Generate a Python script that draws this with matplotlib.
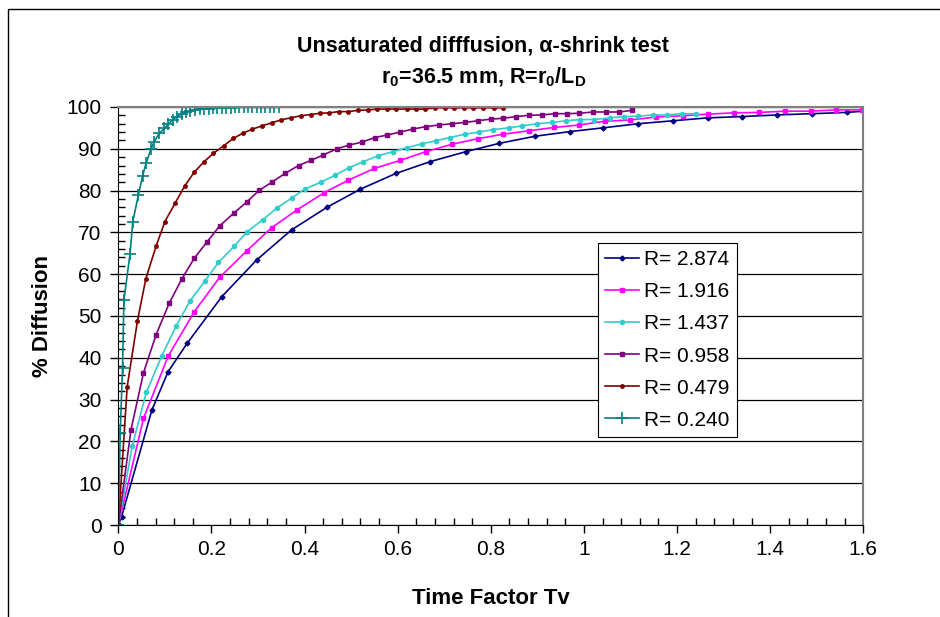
import matplotlib
matplotlib.use("Agg")
import matplotlib.pyplot as plt
from matplotlib.patches import Rectangle
from matplotlib.ticker import MultipleLocator

plt.rcParams['font.family'] = ['Liberation Sans', 'DejaVu Sans']
plt.rcParams['mathtext.fontset'] = 'custom'
plt.rcParams['mathtext.rm'] = 'Liberation Sans'
plt.rcParams['mathtext.bf'] = 'Liberation Sans:bold'

# R = 2.874
nx = [0, 0.007, 0.072, 0.107, 0.148, 0.222, 0.297, 0.372, 0.448, 0.519, 0.596, 0.669, 0.746, 0.818,
      0.895, 0.969, 1.040, 1.117, 1.191, 1.266, 1.339, 1.415, 1.489, 1.565, 1.6]
ny = [0, 2.0, 27.5, 36.7, 43.5, 54.6, 63.4, 70.6, 76.0, 80.3, 84.1, 86.9, 89.3, 91.3,
      93.0, 94.1, 95.0, 96.0, 96.7, 97.4, 97.7, 98.1, 98.4, 98.7, 99.0]
# R = 1.916
mx = [0, 0.054, 0.107, 0.163, 0.218, 0.276, 0.329, 0.384, 0.442, 0.494, 0.550, 0.605, 0.660, 0.717, 0.772,
      0.827, 0.881, 0.936, 0.990, 1.045, 1.100, 1.155, 1.213, 1.267, 1.322, 1.377, 1.432, 1.487, 1.541, 1.597]
my = [0, 25.5, 40.4, 51.0, 59.3, 65.6, 71.1, 75.4, 79.5, 82.5, 85.3, 87.2, 89.3, 91.1, 92.4,
      93.5, 94.3, 95.1, 95.7, 96.6, 96.9, 97.6, 97.9, 98.3, 98.6, 98.7, 99.0, 99.0, 99.3, 99.3]
# R = 1.437
cx = [0, 0.030, 0.060, 0.093, 0.124, 0.154, 0.186, 0.215, 0.249, 0.277, 0.310, 0.340, 0.372, 0.401,
      0.435, 0.466, 0.496, 0.526, 0.557, 0.589, 0.621, 0.652, 0.682, 0.712, 0.745, 0.775, 0.805, 0.838,
      0.868, 0.900, 0.931, 0.962, 0.992, 1.022, 1.056, 1.086, 1.117, 1.148, 1.178, 1.210, 1.241]
cy = [0, 19.0, 31.7, 40.4, 47.6, 53.6, 58.4, 62.8, 66.7, 70.2, 73.0, 75.8, 78.2, 80.4,
      82.0, 83.7, 85.5, 86.9, 88.3, 89.3, 90.3, 91.2, 91.9, 92.7, 93.5, 94.0, 94.6, 95.0,
      95.5, 96.0, 96.3, 96.7, 97.0, 97.0, 97.4, 97.7, 97.8, 98.1, 98.1, 98.4, 98.4]
# R = 0.958
px = [0, 0.027, 0.054, 0.081, 0.109, 0.136, 0.163, 0.191, 0.218, 0.248, 0.276, 0.303, 0.331, 0.358,
      0.387, 0.413, 0.440, 0.469, 0.496, 0.523, 0.551, 0.578, 0.605, 0.632, 0.660, 0.689, 0.717, 0.745,
      0.772, 0.800, 0.827, 0.854, 0.881, 0.909, 0.938, 0.964, 0.990, 1.019, 1.047, 1.076, 1.103]
py = [0, 22.7, 36.4, 45.5, 53.0, 58.8, 63.8, 67.8, 71.6, 74.6, 77.3, 80.1, 82.1, 84.1,
      86.0, 87.2, 88.5, 90.0, 90.9, 91.6, 92.7, 93.3, 94.0, 94.7, 95.3, 95.7, 96.0, 96.3,
      96.7, 97.1, 97.3, 97.7, 98.0, 98.1, 98.4, 98.4, 98.5, 98.8, 98.8, 98.8, 99.2]
# R = 0.479
rx = [0, 0.019, 0.041, 0.059, 0.081, 0.100, 0.122, 0.143, 0.163, 0.184, 0.204, 0.226, 0.247, 0.267,
      0.288, 0.309, 0.329, 0.349, 0.370, 0.392, 0.413, 0.433, 0.453, 0.474, 0.494, 0.515, 0.537, 0.556,
      0.578, 0.597, 0.619, 0.640, 0.659, 0.680, 0.702, 0.721, 0.742, 0.762, 0.784, 0.806, 0.826]
ry = [0, 33.1, 48.8, 58.9, 66.7, 72.6, 77.0, 81.2, 84.4, 86.9, 88.9, 90.7, 92.5, 93.7,
      94.7, 95.5, 96.2, 96.9, 97.4, 97.9, 98.2, 98.5, 98.6, 98.9, 98.9, 99.2, 99.3, 99.5,
      99.5, 99.5, 99.5, 99.5, 99.5, 99.8, 99.8, 99.8, 99.8, 99.8, 99.8, 99.8, 99.8]
# R = 0.240
tx = [0, 0.004, 0.009, 0.012, 0.025, 0.031, 0.043, 0.052, 0.060, 0.070, 0.077, 0.088, 0.099, 0.107,
      0.117, 0.125, 0.136, 0.145, 0.154, 0.165, 0.175, 0.184, 0.194, 0.203, 0.212, 0.222, 0.231,
      0.241, 0.250, 0.259, 0.269, 0.278, 0.288, 0.297, 0.306, 0.316, 0.325, 0.335, 0.344]
ty = [0, 22, 37.5, 53.8, 64.8, 72.6, 78.9, 83.5, 86.7, 89.9, 91.7, 93.7, 94.9, 95.9,
      96.9, 97.7, 98.3, 98.7, 99.0, 99.3, 99.4, 99.5, 99.6, 99.7, 99.7, 99.8, 99.8,
      99.8, 99.9, 99.9, 99.9, 99.9, 99.9, 99.9, 99.9, 99.9, 99.9, 99.9, 99.9]

labels = ['R= 2.874', 'R= 1.916', 'R= 1.437', 'R= 0.958', 'R= 0.479', 'R= 0.240']
xtick_labels = ['0', '0.2', '0.4', '0.6', '0.8', '1', '1.2', '1.4', '1.6']

fig = plt.figure(figsize=(9.4, 6.17), dpi=100)
ax = fig.add_axes([0.1259, 0.1491, 0.7925, 0.6775])

ax.plot(nx, ny, color='#000080', lw=1.2, marker='D', ms=2.5, label=labels[0])
ax.plot(mx, my, color='#FF00FF', lw=1.2, marker='s', ms=2.5, label=labels[1])
ax.plot(cx, cy, color='#33CCCC', lw=1.2, marker='o', ms=3, label=labels[2])
ax.plot(px, py, color='#800080', lw=1.2, marker='s', ms=3.5, label=labels[3])
ax.plot(rx, ry, color='#800000', lw=1.2, marker='o', ms=2.5, label=labels[4])
ax.plot(tx, ty, color='#008080', lw=1.2, marker='+', ms=9, mew=1.2, label=labels[5])

ax.set_xlim(0, 1.6)
ax.set_ylim(0, 100)
ax.set_xticks([0, 0.2, 0.4, 0.6, 0.8, 1.0, 1.2, 1.4, 1.6])
ax.set_xticklabels(xtick_labels)
ax.xaxis.set_minor_locator(MultipleLocator(0.04))
ax.yaxis.set_major_locator(MultipleLocator(10))
ax.yaxis.set_minor_locator(MultipleLocator(2))

ax.tick_params(which='major', direction='out', length=6, width=1, labelsize=15)
ax.tick_params(axis='x', which='major', pad=5)
ax.tick_params(axis='y', which='major', pad=6)
ax.tick_params(which='minor', direction='in', length=5, width=1)
ax.grid(axis='y', which='major', color='black', lw=0.9)
ax.set_axisbelow(True)
for s in ['left', 'bottom']:
    ax.spines[s].set_color('black')
for s in ['top', 'right']:
    ax.spines[s].set_color('#808080')
    ax.spines[s].set_linewidth(1.5)

ax.set_xlabel('Time Factor Tv', fontsize=16, fontweight='bold', labelpad=21)
ax.set_ylabel('% Diffusion', fontsize=16, fontweight='bold', labelpad=10)

fig.text(0.514, 0.926, 'Unsaturated difffusion, α-shrink test', ha='center', va='center',
         fontsize=15.5, fontweight='bold')
fig.text(0.514, 0.875, r'r$_\mathbf{0}$=36.5 mm, R=r$_\mathbf{0}$/L$_\mathbf{D}$', ha='center',
         va='center', fontsize=15.5, fontweight='bold')

leg = ax.legend(loc='upper left', bbox_to_anchor=(0.644, 0.675), fontsize=15, frameon=True,
                fancybox=False, edgecolor='black', framealpha=1, borderpad=0.35,
                labelspacing=0.63, handlelength=1.6, handletextpad=0.25, borderaxespad=0)
leg.get_frame().set_linewidth(0.8)

fig.add_artist(Rectangle((8 / 940, -0.1), 1.2, 1.1 - 9 / 617, transform=fig.transFigure,
                         fill=False, lw=1, edgecolor='black'))

fig.savefig('out.png', dpi=100)
